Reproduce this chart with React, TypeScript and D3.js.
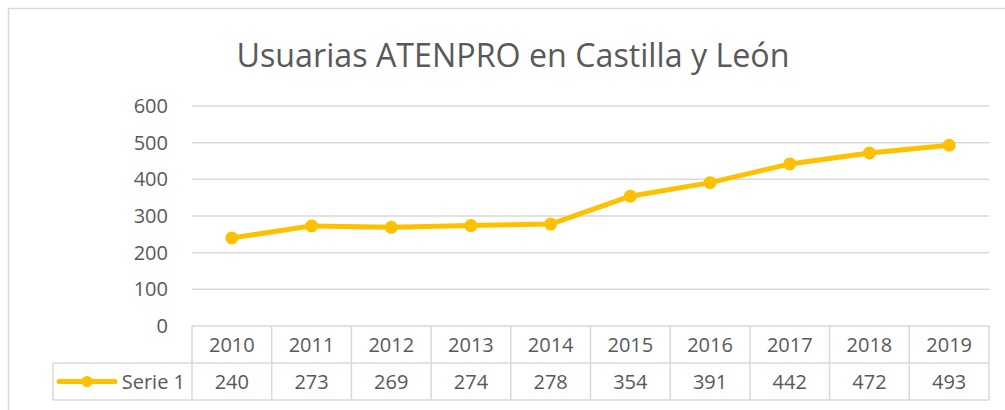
import React from 'react';
import * as d3 from 'd3';

const years = ['2010', '2011', '2012', '2013', '2014', '2015', '2016', '2017', '2018', '2019'];
const usuarias = [240, 273, 269, 274, 278, 354, 391, 442, 472, 493];
const yTicks = [0, 100, 200, 300, 400, 500, 600];
const serieName = 'Serie 1';
const title = 'Usuarias ATENPRO en Castilla y León';

const W = 1005;
const H = 410;
const plotLeft = 192;
const plotRight = 989;
const plotTop = 106;
const plotBottom = 326;
const rowH = 37;
const legendLeft = 53;
const gridColor = '#d9d9d9';
const textColor = '#595959';
const lineColor = '#FFC000';
const font = '"Open Sans", sans-serif';

const App = () => {
  const x = d3.scaleBand<string>().domain(years).range([plotLeft, plotRight]);
  const y = d3.scaleLinear().domain([0, 600]).range([plotBottom, plotTop]);
  const line = d3.line<number>()
    .x((_, i) => x(years[i])! + x.bandwidth() / 2)
    .y(d => y(d));

  const row1 = plotBottom;
  const row2 = plotBottom + rowH;
  const row3 = plotBottom + rowH * 2;

  return (
    <div style={{ position: 'fixed', left: 0, top: 0, width: W, height: H, background: '#fff' }}>
      <svg width={W} height={H} style={{ display: 'block', fontFamily: font }}>
        <rect x={8.5} y={8.5} width={W} height={H} fill="#fff" stroke={gridColor} strokeWidth={1.5} />
        <text x={513} y={67} textAnchor="middle" fontSize={33} fill={textColor} textLength={553} lengthAdjust="spacingAndGlyphs">{title}</text>

        {yTicks.map(t => (
          <g key={t}>
            {t > 0 && (
              <line x1={plotLeft} x2={plotRight} y1={y(t)} y2={y(t)} stroke={gridColor} strokeWidth={1.5} />
            )}
            <text x={168} y={y(t)} dy="0.35em" textAnchor="end" fontSize={20} fill={textColor}>{t}</text>
          </g>
        ))}

        {/* data table */}
        <line x1={plotLeft} x2={plotRight} y1={row1} y2={row1} stroke={gridColor} strokeWidth={1.5} />
        <line x1={legendLeft} x2={plotRight} y1={row2} y2={row2} stroke={gridColor} strokeWidth={1.5} />
        <line x1={legendLeft} x2={plotRight} y1={row3} y2={row3} stroke={gridColor} strokeWidth={1.5} />
        <line x1={legendLeft} x2={legendLeft} y1={row2} y2={row3} stroke={gridColor} strokeWidth={1.5} />
        {years.map(yr => (
          <line key={yr} x1={x(yr)} x2={x(yr)} y1={row1} y2={row3} stroke={gridColor} strokeWidth={1.5} />
        ))}
        <line x1={plotRight} x2={plotRight} y1={row1} y2={row3} stroke={gridColor} strokeWidth={1.5} />

        {years.map((yr, i) => (
          <g key={yr} fontSize={20} fill={textColor} textAnchor="middle">
            <text x={x(yr)! + x.bandwidth() / 2} y={row1 + rowH / 2} dy="0.35em">{yr}</text>
            <text x={x(yr)! + x.bandwidth() / 2} y={row2 + rowH / 2} dy="0.35em">{usuarias[i]}</text>
          </g>
        ))}

        {/* legend key */}
        <line x1={59} x2={115} y1={row2 + rowH / 2} y2={row2 + rowH / 2} stroke={lineColor} strokeWidth={5} strokeLinecap="round" />
        <circle cx={87} cy={row2 + rowH / 2} r={5.5} fill={lineColor} />
        <text x={185} y={row2 + rowH / 2} dy="0.35em" textAnchor="end" fontSize={20} fill={textColor}>{serieName}</text>

        {/* series */}
        <path d={line(usuarias) ?? ''} fill="none" stroke={lineColor} strokeWidth={5} strokeLinejoin="round" />
        {usuarias.map((v, i) => (
          <circle key={i} cx={x(years[i])! + x.bandwidth() / 2} cy={y(v)} r={6.5} fill={lineColor} />
        ))}
      </svg>
    </div>
  );
};

export default App;
